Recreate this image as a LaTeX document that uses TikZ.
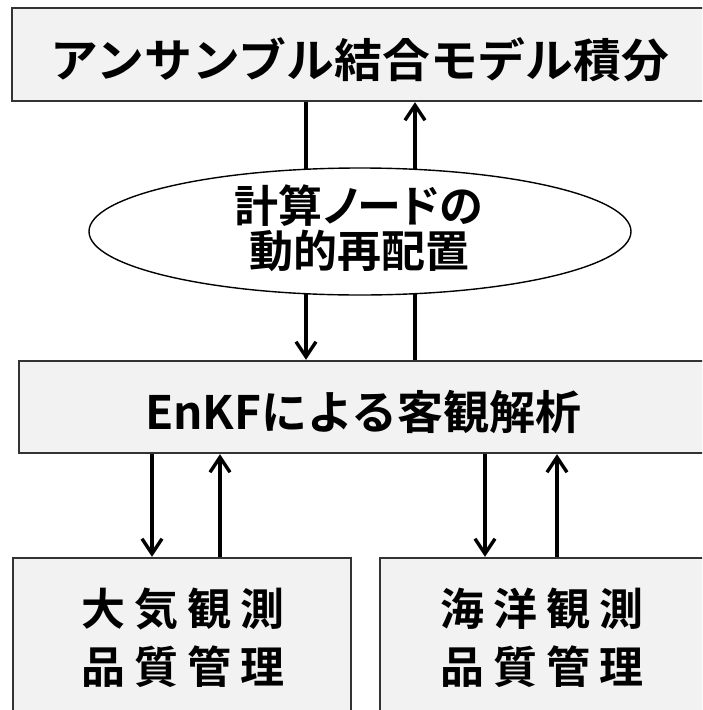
\documentclass[tikz,border=0pt]{standalone}
\usepackage{fontspec}
\newfontfamily\jp{Noto Sans CJK JP}[BoldFont={Noto Sans CJK JP Bold}]
\usetikzlibrary{arrows.meta,shapes.geometric}
\definecolor{boxfill}{HTML}{F2F2F2}
\definecolor{boxline}{HTML}{333333}
\tikzset{
  box/.style={draw=boxline, line width=2.4pt, fill=boxfill, rectangle, inner sep=0pt},
  oval/.style={draw=black, line width=1.4pt, fill=white, ellipse, inner sep=0pt},
  txttop/.style={font=\jp\bfseries\fontsize{46}{45}\selectfont\addfontfeature{FakeStretch=1.04}, align=center, inner sep=0pt},
  txt/.style={font=\jp\bfseries\fontsize{46}{45}\selectfont, align=center, inner sep=0pt},
  txtell/.style={font=\jp\bfseries\fontsize{44}{45}\selectfont, align=center, inner sep=0pt},
  txtwide/.style={font=\jp\bfseries\fontsize{44}{58}\selectfont\addfontfeature{LetterSpace=20}, align=center, inner sep=0pt},
  ln/.style={line width=3.4pt, draw=black},
  arr/.style={line width=3.4pt, draw=black, -{Straight Barb[length=15pt,width=20pt,line width=3.4pt]}}
}
\begin{document}
\begin{tikzpicture}[x=1pt,y=-1pt]
\useasboundingbox (0,0) rectangle (702,710);
\clip (0,0) rectangle (702,710);
\fill[white] (0,0) rectangle (702,710);
% boxes
\node[box, minimum width=696pt, minimum height=93pt] (top) at (360,54.5) {};
\node[oval, minimum width=542pt, minimum height=127pt] (ell) at (360,231.5) {};
\node[box, minimum width=691pt, minimum height=92pt] (mid) at (364.5,407) {};
\node[box, minimum width=338pt, minimum height=162pt] (atm) at (182,639) {};
\node[box, minimum width=338pt, minimum height=162pt] (ocn) at (549,639) {};
% texts
\node[txttop] (ttop) at (360,59.5) {アンサンブル結合モデル積分};
\node[txtell] (tell) at (359,228) {{\addfontfeature{RawFeature=+palt}計算ノードの}\\動的再配置};
\node[txt] (tmid) at (363.5,412) {EnKFによる客観解析};
\node[txtwide] (tatm) at (183,638) {大気観測\\品質管理};
\node[txtwide] (tocn) at (542,638) {海洋観測\\品質管理};
% points on ellipse
\coordinate (eTL) at (306,169.3);
\coordinate (eBL) at (306,293.7);
\coordinate (eTR) at (415,169.3);
\coordinate (eBR) at (415,293.7);
% connectors
\draw[ln] (top.south -| eTL) -- (eTL);
\draw[arr] (eBL) -- (mid.north -| eBL);
\draw[ln] (mid.north -| eBR) -- (eBR);
\draw[arr] (eTR) -- (top.south -| eTR);
\coordinate (a1) at (152,0);
\coordinate (a2) at (220,0);
\coordinate (o1) at (485,0);
\coordinate (o2) at (557,0);
\draw[arr] (mid.south -| a1) -- (atm.north -| a1);
\draw[arr] (atm.north -| a2) -- (mid.south -| a2);
\draw[arr] (mid.south -| o1) -- (ocn.north -| o1);
\draw[arr] (ocn.north -| o2) -- (mid.south -| o2);
\end{tikzpicture}
\end{document}
